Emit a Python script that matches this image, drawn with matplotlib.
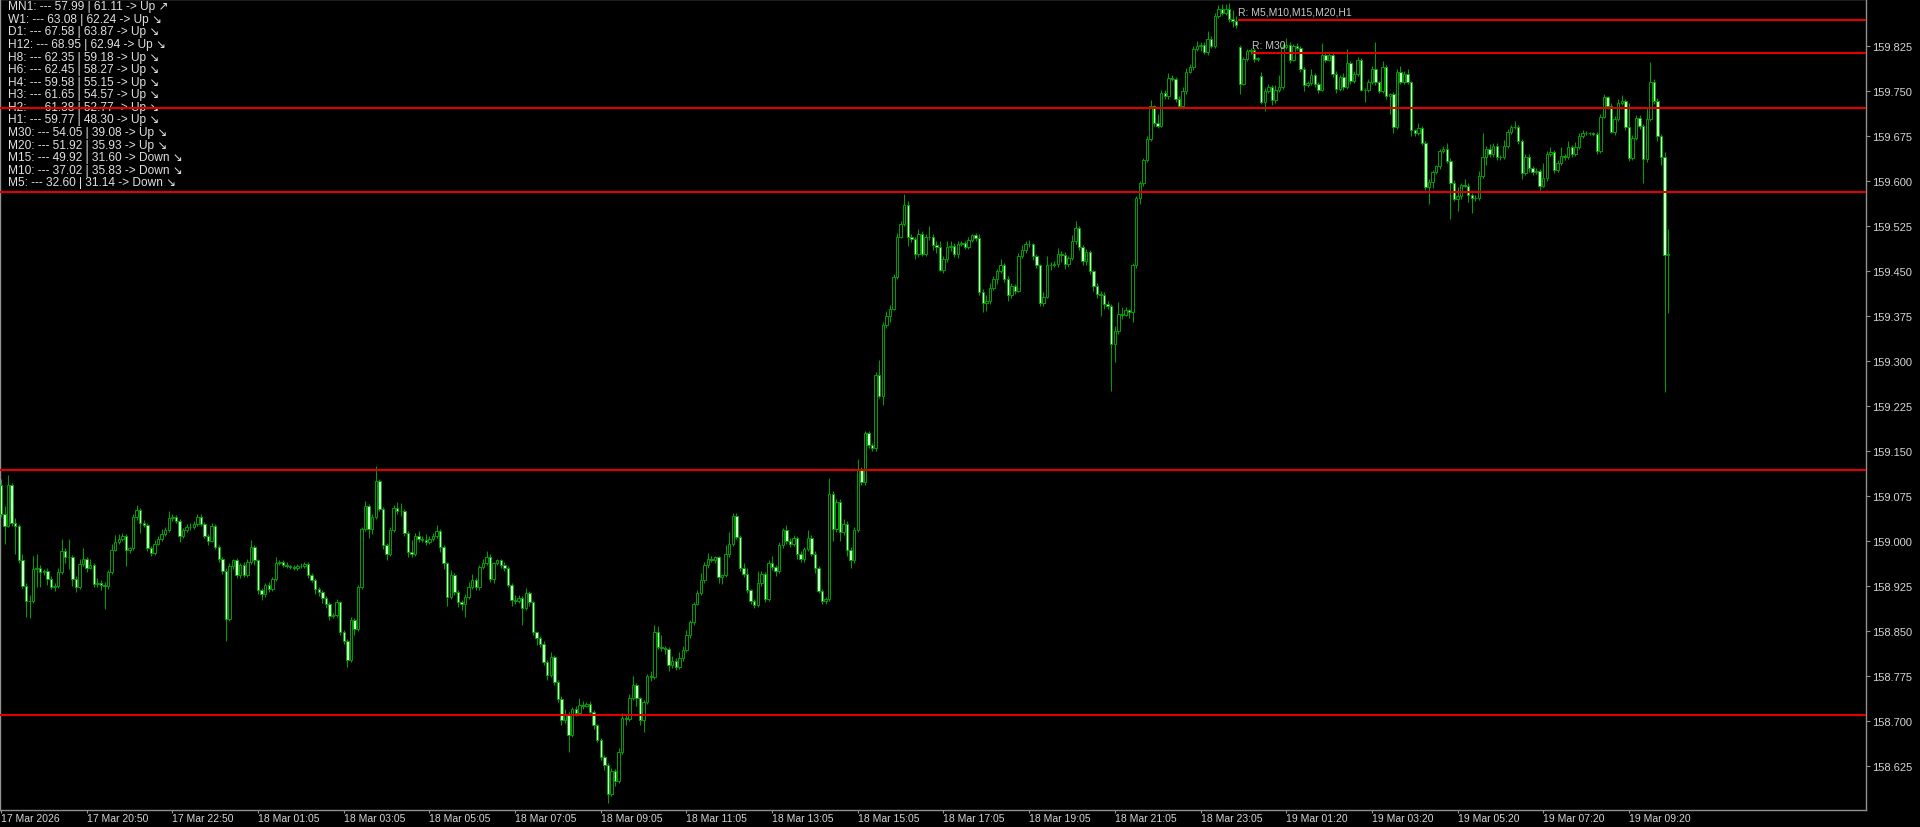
import matplotlib
matplotlib.use("Agg")
import matplotlib.pyplot as plt
import numpy as np

plt.rcParams['font.family'] = ['Liberation Sans', 'DejaVu Sans']

# ---------------- data (USDJPY-like M5 bars) ----------------
opens = [
159.092, 159.044, 159.025, 159.093, 159.030, 159.025, 158.967, 158.925, 158.900, 158.899,
158.953, 158.955, 158.947, 158.949, 158.936, 158.922, 158.925, 158.948, 158.983, 158.972,
158.973, 158.936, 158.922, 158.961, 158.969, 158.955, 158.959, 158.928, 158.930, 158.926,
158.924, 158.948, 158.985, 158.998, 159.003, 159.007, 158.985, 158.987, 159.039, 159.051,
159.030, 159.026, 158.987, 158.980, 158.995, 159.003, 159.011, 159.018, 159.037, 159.039,
159.033, 159.007, 159.017, 159.023, 159.022, 159.028, 159.039, 159.028, 159.008, 159.000,
159.024, 158.990, 158.969, 158.950, 158.869, 158.958, 158.967, 158.942, 158.959, 158.942,
158.965, 158.989, 158.967, 158.917, 158.911, 158.926, 158.919, 158.936, 158.963, 158.964,
158.959, 158.957, 158.956, 158.954, 158.958, 158.957, 158.961, 158.943, 158.935, 158.919,
158.914, 158.904, 158.894, 158.875, 158.876, 158.897, 158.848, 158.833, 158.801, 158.867,
158.852, 158.922, 159.019, 159.058, 159.019, 159.039, 159.100, 159.053, 158.992, 158.978,
159.017, 159.054, 159.050, 159.049, 159.013, 158.981, 158.978, 159.008, 159.002, 159.001,
158.998, 159.002, 159.008, 159.016, 158.989, 158.962, 158.906, 158.943, 158.914, 158.898,
158.894, 158.906, 158.923, 158.934, 158.923, 158.956, 158.963, 158.973, 158.936, 158.962,
158.967, 158.960, 158.954, 158.926, 158.901, 158.899, 158.904, 158.887, 158.913, 158.897,
158.847, 158.838, 158.827, 158.797, 158.776, 158.806, 158.764, 158.736, 158.701, 158.709,
158.676, 158.719, 158.713, 158.726, 158.725, 158.727, 158.714, 158.692, 158.668, 158.639,
158.626, 158.578, 158.616, 158.599, 158.648, 158.704, 158.703, 158.737, 158.759, 158.737,
158.701, 158.731, 158.774, 158.772, 158.848, 158.823, 158.821, 158.819, 158.792, 158.800,
158.790, 158.805, 158.818, 158.843, 158.864, 158.895, 158.912, 158.934, 158.960, 158.969,
158.967, 158.972, 158.939, 158.942, 158.977, 158.994, 159.041, 159.006, 158.954, 158.945,
158.917, 158.899, 158.893, 158.929, 158.944, 158.903, 158.962, 158.956, 158.949, 158.992,
159.018, 158.999, 158.995, 159.004, 158.978, 158.969, 158.986, 159.005, 158.978, 158.954,
158.916, 158.899, 158.902, 159.078, 159.019, 159.064, 159.014, 159.028, 158.985, 158.967,
159.018, 159.118, 159.097, 159.179, 159.159, 159.154, 159.276, 159.241, 159.359, 159.375,
159.387, 159.439, 159.507, 159.528, 159.559, 159.507, 159.503, 159.478, 159.511, 159.478,
159.507, 159.506, 159.493, 159.489, 159.452, 159.469, 159.489, 159.492, 159.478, 159.495,
159.496, 159.489, 159.502, 159.509, 159.504, 159.414, 159.397, 159.399, 159.422, 159.436,
159.450, 159.459, 159.436, 159.410, 159.424, 159.417, 159.475, 159.485, 159.495, 159.494,
159.474, 159.459, 159.396, 159.407, 159.460, 159.459, 159.461, 159.478, 159.476, 159.461,
159.471, 159.499, 159.521, 159.489, 159.466, 159.481, 159.449, 159.425, 159.411, 159.410,
159.395, 159.391, 159.328, 159.350, 159.378, 159.377, 159.384, 159.382, 159.460, 159.572,
159.597, 159.634, 159.670, 159.724, 159.696, 159.692, 159.747, 159.741, 159.772, 159.770,
159.737, 159.724, 159.749, 159.782, 159.789, 159.820, 159.825, 159.826, 159.815, 159.837,
159.825, 159.875, 159.887, 159.880, 159.886, 159.869, 159.867, 159.823, 159.762, 159.803,
159.816, 159.818, 159.803, 159.774, 159.731, 159.749, 159.756, 159.734, 159.751, 159.756,
159.823, 159.826, 159.802, 159.824, 159.821, 159.786, 159.760, 159.763, 159.776, 159.761,
159.752, 159.810, 159.802, 159.810, 159.778, 159.753, 159.773, 159.756, 159.796, 159.766,
159.778, 159.802, 159.752, 159.751, 159.764, 159.787, 159.764, 159.749, 159.789, 159.742,
159.744, 159.689, 159.781, 159.764, 159.778, 159.764, 159.684, 159.680, 159.688, 159.663,
159.589, 159.598, 159.615, 159.624, 159.650, 159.653, 159.633, 159.597, 159.570, 159.575,
159.593, 159.592, 159.576, 159.572, 159.571, 159.608, 159.639, 159.653, 159.644, 159.658,
159.639, 159.640, 159.658, 159.682, 159.689, 159.690, 159.667, 159.613, 159.640, 159.622,
159.615, 159.616, 159.592, 159.604, 159.644, 159.648, 159.618, 159.629, 159.642, 159.640,
159.657, 159.644, 159.657, 159.674, 159.680, 159.679, 159.679, 159.678, 159.650, 159.707,
159.739, 159.725, 159.682, 159.703, 159.729, 159.733, 159.689, 159.638, 159.672, 159.705,
159.692, 159.636, 159.703, 159.765, 159.733, 159.675, 159.640, 159.476,
]

closes = [
159.044, 159.025, 159.093, 159.030, 159.025, 158.967, 158.925, 158.900, 158.899, 158.953,
158.955, 158.947, 158.949, 158.936, 158.922, 158.925, 158.948, 158.983, 158.972, 158.973,
158.936, 158.922, 158.961, 158.969, 158.955, 158.959, 158.928, 158.930, 158.926, 158.924,
158.948, 158.985, 158.998, 159.003, 159.007, 158.985, 158.987, 159.039, 159.051, 159.030,
159.026, 158.987, 158.980, 158.995, 159.003, 159.011, 159.018, 159.037, 159.039, 159.033,
159.007, 159.017, 159.023, 159.022, 159.028, 159.039, 159.028, 159.008, 159.000, 159.024,
158.990, 158.969, 158.950, 158.869, 158.958, 158.967, 158.942, 158.959, 158.942, 158.965,
158.989, 158.967, 158.917, 158.911, 158.926, 158.919, 158.936, 158.963, 158.964, 158.959,
158.957, 158.956, 158.954, 158.958, 158.957, 158.961, 158.943, 158.935, 158.919, 158.914,
158.904, 158.894, 158.875, 158.876, 158.897, 158.848, 158.833, 158.801, 158.867, 158.852,
158.922, 159.019, 159.058, 159.019, 159.039, 159.100, 159.053, 158.992, 158.978, 159.017,
159.054, 159.050, 159.049, 159.013, 158.981, 158.978, 159.008, 159.002, 159.001, 158.998,
159.002, 159.008, 159.016, 158.989, 158.962, 158.906, 158.943, 158.914, 158.898, 158.894,
158.906, 158.923, 158.934, 158.923, 158.956, 158.963, 158.973, 158.936, 158.962, 158.967,
158.960, 158.954, 158.926, 158.901, 158.899, 158.904, 158.887, 158.913, 158.897, 158.847,
158.838, 158.827, 158.797, 158.776, 158.806, 158.764, 158.736, 158.701, 158.709, 158.676,
158.719, 158.713, 158.726, 158.725, 158.727, 158.714, 158.692, 158.668, 158.639, 158.626,
158.578, 158.616, 158.599, 158.648, 158.704, 158.703, 158.737, 158.759, 158.737, 158.701,
158.731, 158.774, 158.772, 158.848, 158.823, 158.821, 158.819, 158.792, 158.800, 158.790,
158.805, 158.818, 158.843, 158.864, 158.895, 158.912, 158.934, 158.960, 158.969, 158.967,
158.972, 158.939, 158.942, 158.977, 158.994, 159.041, 159.006, 158.954, 158.945, 158.917,
158.899, 158.893, 158.929, 158.944, 158.903, 158.962, 158.956, 158.949, 158.992, 159.018,
158.999, 158.995, 159.004, 158.978, 158.969, 158.986, 159.005, 158.978, 158.954, 158.916,
158.899, 158.902, 159.078, 159.019, 159.064, 159.014, 159.028, 158.985, 158.967, 159.018,
159.118, 159.097, 159.179, 159.159, 159.154, 159.276, 159.241, 159.359, 159.375, 159.387,
159.439, 159.507, 159.528, 159.559, 159.507, 159.503, 159.478, 159.511, 159.478, 159.507,
159.506, 159.493, 159.489, 159.452, 159.469, 159.489, 159.492, 159.478, 159.495, 159.496,
159.489, 159.502, 159.509, 159.504, 159.414, 159.397, 159.399, 159.422, 159.436, 159.450,
159.459, 159.436, 159.410, 159.424, 159.417, 159.475, 159.485, 159.495, 159.494, 159.474,
159.459, 159.396, 159.407, 159.460, 159.459, 159.461, 159.478, 159.476, 159.461, 159.471,
159.499, 159.521, 159.489, 159.466, 159.481, 159.449, 159.425, 159.411, 159.410, 159.395,
159.391, 159.328, 159.350, 159.378, 159.377, 159.384, 159.382, 159.460, 159.572, 159.597,
159.634, 159.670, 159.724, 159.696, 159.692, 159.747, 159.741, 159.772, 159.770, 159.737,
159.724, 159.749, 159.782, 159.789, 159.820, 159.825, 159.826, 159.815, 159.837, 159.825,
159.875, 159.887, 159.880, 159.886, 159.869, 159.867, 159.859, 159.762, 159.803, 159.816,
159.818, 159.803, 159.804, 159.731, 159.749, 159.756, 159.734, 159.751, 159.756, 159.823,
159.826, 159.802, 159.824, 159.821, 159.786, 159.760, 159.763, 159.776, 159.761, 159.752,
159.810, 159.802, 159.810, 159.778, 159.753, 159.773, 159.756, 159.796, 159.766, 159.778,
159.802, 159.752, 159.751, 159.764, 159.787, 159.764, 159.749, 159.789, 159.742, 159.744,
159.689, 159.781, 159.764, 159.778, 159.764, 159.684, 159.680, 159.688, 159.663, 159.589,
159.598, 159.615, 159.624, 159.650, 159.653, 159.633, 159.597, 159.570, 159.575, 159.593,
159.592, 159.576, 159.572, 159.571, 159.608, 159.639, 159.653, 159.644, 159.658, 159.639,
159.640, 159.658, 159.682, 159.689, 159.690, 159.667, 159.613, 159.640, 159.622, 159.615,
159.616, 159.592, 159.604, 159.644, 159.648, 159.618, 159.629, 159.642, 159.640, 159.657,
159.644, 159.657, 159.674, 159.680, 159.679, 159.679, 159.678, 159.650, 159.707, 159.739,
159.725, 159.682, 159.703, 159.729, 159.733, 159.689, 159.638, 159.672, 159.705, 159.692,
159.636, 159.703, 159.765, 159.733, 159.675, 159.640, 159.476, 159.478,
]

# wick lengths beyond the body, in points (0.001)
wick_up_pts = [
11, 14, 16, 3, 8, 3, 10, 5, 10, 22,
22, 5, 4, 6, 5, 5, 6, 20, 4, 30,
3, 5, 8, 18, 4, 10, 4, 8, 4, 5,
3, 10, 12, 8, 5, 4, 3, 5, 8, 3,
5, 3, 4, 6, 5, 8, 4, 12, 6, 4,
3, 4, 4, 6, 4, 5, 6, 3, 3, 5,
3, 3, 3, 4, 4, 3, 4, 3, 5, 5,
12, 3, 3, 4, 3, 5, 4, 10, 3, 4,
5, 3, 4, 3, 4, 4, 3, 3, 3, 3,
3, 3, 3, 4, 6, 3, 3, 3, 5, 4,
4, 3, 8, 3, 5, 24, 3, 3, 4, 5,
5, 10, 12, 4, 3, 20, 5, 8, 6, 10,
5, 5, 10, 3, 3, 3, 8, 3, 3, 3,
5, 8, 10, 4, 3, 6, 10, 4, 3, 3,
3, 4, 3, 3, 8, 5, 4, 8, 3, 3,
3, 3, 5, 4, 8, 3, 3, 5, 10, 6,
4, 5, 12, 6, 4, 5, 3, 3, 3, 3,
3, 5, 4, 6, 8, 5, 8, 15, 4, 3,
4, 4, 8, 12, 10, 20, 4, 3, 8, 4,
10, 6, 8, 3, 3, 5, 12, 5, 10, 5,
3, 3, 3, 15, 20, 5, 5, 3, 8, 10,
3, 3, 20, 5, 3, 5, 12, 3, 5, 3,
8, 5, 5, 4, 4, 3, 12, 4, 4, 3,
3, 4, 27, 5, 5, 5, 8, 4, 4, 5,
18, 4, 4, 3, 3, 5, 25, 5, 8, 6,
5, 6, 5, 19, 8, 5, 4, 8, 6, 5,
18, 5, 6, 10, 5, 10, 8, 5, 4, 3,
4, 5, 3, 4, 8, 5, 10, 8, 5, 3,
10, 4, 5, 5, 4, 5, 8, 4, 6, 3,
4, 3, 8, 15, 4, 5, 10, 5, 5, 4,
10, 12, 3, 4, 5, 3, 3, 4, 5, 5,
5, 4, 8, 20, 12, 6, 3, 3, 3, 3,
4, 5, 10, 3, 15, 5, 4, 8, 4, 3,
5, 8, 6, 5, 4, 8, 5, 6, 12, 5,
5, 6, 8, 8, 10, 15, 8, 3, 4, 4,
3, 3, 3, 8, 5, 5, 3, 8, 20, 5,
12, 5, 4, 6, 4, 3, 3, 10, 3, 4,
20, 5, 4, 4, 5, 4, 6, 23, 4, 5,
5, 3, 3, 5, 5, 45, 3, 10, 4, 3,
4, 5, 10, 5, 8, 3, 3, 8, 3, 4,
5, 3, 3, 3, 5, 10, 5, 5, 15, 3,
10, 5, 3, 5, 8, 40, 5, 8, 5, 5,
3, 10, 5, 4, 10, 3, 3, 5, 4, 3,
5, 3, 25, 5, 8, 3, 6, 15, 3, 10,
3, 8, 5, 5, 3, 3, 3, 4, 5, 5,
3, 5, 5, 8, 10, 3, 40, 5, 5, 4,
3, 20, 33, 4, 5, 3, 8, 41,
]

wick_dn_pts = [
5, 31, 3, 5, 47, 4, 4, 28, 28, 3,
30, 25, 5, 10, 3, 6, 4, 3, 10, 20,
12, 7, 3, 4, 8, 3, 5, 6, 8, 38,
5, 4, 3, 4, 3, 27, 5, 3, 4, 18,
4, 5, 5, 4, 3, 3, 3, 3, 4, 3,
10, 3, 3, 4, 3, 3, 3, 4, 7, 3,
4, 4, 5, 37, 3, 6, 5, 4, 3, 3,
4, 8, 6, 10, 5, 4, 3, 3, 3, 3,
3, 3, 3, 3, 3, 3, 5, 4, 8, 6,
8, 6, 8, 4, 4, 5, 6, 12, 4, 10,
3, 3, 3, 15, 8, 3, 3, 6, 10, 3,
3, 5, 8, 5, 8, 5, 3, 5, 4, 6,
3, 3, 3, 8, 10, 15, 4, 5, 8, 10,
22, 3, 4, 5, 5, 3, 3, 5, 6, 3,
6, 5, 4, 10, 5, 3, 28, 3, 6, 5,
12, 5, 4, 8, 3, 5, 5, 8, 5, 28,
3, 5, 3, 5, 3, 5, 6, 4, 5, 8,
16, 3, 8, 3, 4, 10, 3, 3, 12, 8,
20, 3, 6, 3, 4, 5, 8, 10, 5, 6,
4, 5, 4, 5, 4, 3, 3, 4, 5, 3,
4, 10, 12, 3, 5, 3, 4, 4, 5, 4,
4, 5, 3, 5, 6, 3, 5, 8, 3, 5,
4, 5, 4, 8, 5, 5, 4, 4, 8, 3,
5, 4, 3, 20, 5, 15, 5, 10, 12, 4,
4, 4, 5, 4, 5, 4, 3, 14, 5, 10,
3, 3, 3, 3, 15, 5, 8, 5, 4, 4,
5, 8, 10, 3, 6, 4, 6, 5, 6, 4,
3, 3, 4, 5, 4, 15, 14, 5, 4, 8,
3, 5, 10, 6, 5, 3, 3, 5, 5, 6,
4, 5, 4, 3, 8, 3, 4, 12, 8, 5,
3, 4, 5, 6, 6, 5, 8, 6, 35, 8,
5, 78, 30, 5, 8, 3, 10, 18, 5, 10,
5, 3, 3, 5, 4, 3, 5, 4, 3, 5,
3, 4, 4, 3, 5, 3, 8, 4, 5, 4,
4, 3, 4, 3, 5, 10, 5, 17, 3, 3,
4, 5, 3, 3, 15, 3, 8, 4, 3, 3,
3, 5, 3, 3, 5, 10, 4, 3, 4, 6,
3, 4, 3, 5, 6, 3, 5, 3, 5, 3,
4, 3, 20, 3, 3, 4, 3, 3, 5, 30,
10, 3, 3, 3, 3, 10, 5, 3, 3, 5,
28, 10, 4, 5, 3, 3, 61, 3, 20, 5,
3, 12, 25, 4, 3, 3, 12, 4, 4, 5,
4, 3, 3, 4, 3, 5, 10, 3, 8, 6,
3, 8, 3, 4, 3, 5, 4, 3, 5, 3,
5, 3, 4, 3, 3, 3, 3, 5, 3, 3,
5, 3, 5, 3, 3, 5, 5, 4, 4, 5,
39, 4, 3, 5, 8, 14, 228, 97,
]

time_label_bars = [0, 24, 48, 72, 96, 120, 144, 168, 192, 216,
                   240, 264, 288, 312, 336, 360, 384, 408, 432, 456]
time_labels = ["17 Mar 2026", "17 Mar 20:50", "17 Mar 22:50", "18 Mar 01:05",
               "18 Mar 03:05", "18 Mar 05:05", "18 Mar 07:05", "18 Mar 09:05",
               "18 Mar 11:05", "18 Mar 13:05", "18 Mar 15:05", "18 Mar 17:05",
               "18 Mar 19:05", "18 Mar 21:05", "18 Mar 23:05", "19 Mar 01:20",
               "19 Mar 03:20", "19 Mar 05:20", "19 Mar 07:20", "19 Mar 09:20"]
price_ticks = [158.625, 158.700, 158.775, 158.850, 158.925, 159.000, 159.075,
               159.150, 159.225, 159.300, 159.375, 159.450, 159.525, 159.600,
               159.675, 159.750, 159.825]

level_prices = [159.721, 159.581, 159.1185, 158.710]
ray_prices = [159.8685, 159.813]
ray_start_bars = [346.5, 350.4]
ray_labels = ["R: M5,M10,M15,M20,H1", "R: M30"]

tf_names = ["MN1", "W1", "D1", "H12", "H8", "H6", "H4", "H3", "H2", "H1",
            "M30", "M20", "M15", "M10", "M5"]
tf_fast = ["57.99", "63.08", "67.58", "68.95", "62.35", "62.45", "59.58", "61.65",
           "61.38", "59.77", "54.05", "51.92", "49.92", "37.02", "32.60"]
tf_slow = ["61.11", "62.24", "63.87", "62.94", "59.18", "58.27", "55.15", "54.57",
           "52.77", "48.30", "39.08", "35.93", "31.60", "35.83", "31.14"]
tf_trend = ["Up", "Up", "Up", "Up", "Up", "Up", "Up", "Up", "Up", "Up",
            "Up", "Up", "Down", "Down", "Down"]
tf_arrow = ["\u2197"] + ["\u2198"] * 14

# ---------------- layout ----------------
W, H = 1920, 828
PLOT_R, PLOT_B = 1866, 811
PX_PER_BAR = 3.57
Y_TOP, Y_BOT = 159.903, 158.551

fig = plt.figure(figsize=(W / 100, H / 100), dpi=100, facecolor='black')
ax = fig.add_axes([0, (H - PLOT_B) / H, PLOT_R / W, PLOT_B / H], facecolor='black')
x_right = (PLOT_R - 1) / PX_PER_BAR
ax.set_xlim(-1 / PX_PER_BAR, x_right)
ax.set_ylim(Y_BOT, Y_TOP)

GREEN = '#00a000'
BEAR_FILL = '#c8ffc8'
RED = '#e00000'

o = np.array(opens)
c = np.array(closes)
pt = 0.001
hi = np.maximum(o, c) + np.array(wick_up_pts) * pt
lo = np.minimum(o, c) - np.array(wick_dn_pts) * pt
x = np.arange(len(c))

ax.vlines(x, lo, hi, color=GREEN, lw=0.75, zorder=2)
bull = c >= o
body_lo = np.minimum(o, c)
body_h = np.maximum(np.abs(c - o), 0.0006)
ax.bar(x[bull], body_h[bull], bottom=body_lo[bull], width=0.68,
       facecolor='black', edgecolor=GREEN, linewidth=0.7, zorder=3)
ax.bar(x[~bull], body_h[~bull], bottom=body_lo[~bull], width=0.68,
       facecolor=BEAR_FILL, edgecolor=GREEN, linewidth=0.7, zorder=3)

# horizontal levels
for p in level_prices:
    ax.axhline(p, color=RED, lw=1.5, zorder=5)
for p, xs, lab in zip(ray_prices, ray_start_bars, ray_labels):
    ax.hlines(p, xs, x_right, color=RED, lw=1.5, zorder=5)
    ax.annotate(lab, (xs, p), xytext=(0, 2.5), textcoords='offset points',
                color='#c8c8c8', fontsize=7.5, va='bottom', ha='left', zorder=6)

# indicator info block (top-left)
for k in range(len(tf_names)):
    s = f"{tf_names[k]}: --- {tf_fast[k]} | {tf_slow[k]} -> {tf_trend[k]} {tf_arrow[k]}"
    yc = 7.3 + 12.57 * k
    ax.text(8 / PLOT_R, 1 - yc / PLOT_B, s, transform=ax.transAxes,
            color='#e0e0e0', fontsize=8.6, va='center', ha='left', zorder=1)

# axes styling
for s in ax.spines.values():
    s.set_color('#909090')
    s.set_linewidth(1.0)

ax.yaxis.tick_right()
ax.set_yticks(price_ticks)
ax.set_yticklabels([f"{p:.3f}" for p in price_ticks])
ax.tick_params(axis='y', colors='#909090', labelcolor='#d4d4d4', length=3,
               width=0.8, pad=1.5, labelsize=8)

ax.set_xticks(time_label_bars)
ax.set_xticklabels(time_labels, ha='left')
ax.tick_params(axis='x', colors='#909090', labelcolor='#d4d4d4', length=2,
               width=0.8, pad=0.5, labelsize=7.5)

fig.savefig('out.png', dpi=100, facecolor='black')
